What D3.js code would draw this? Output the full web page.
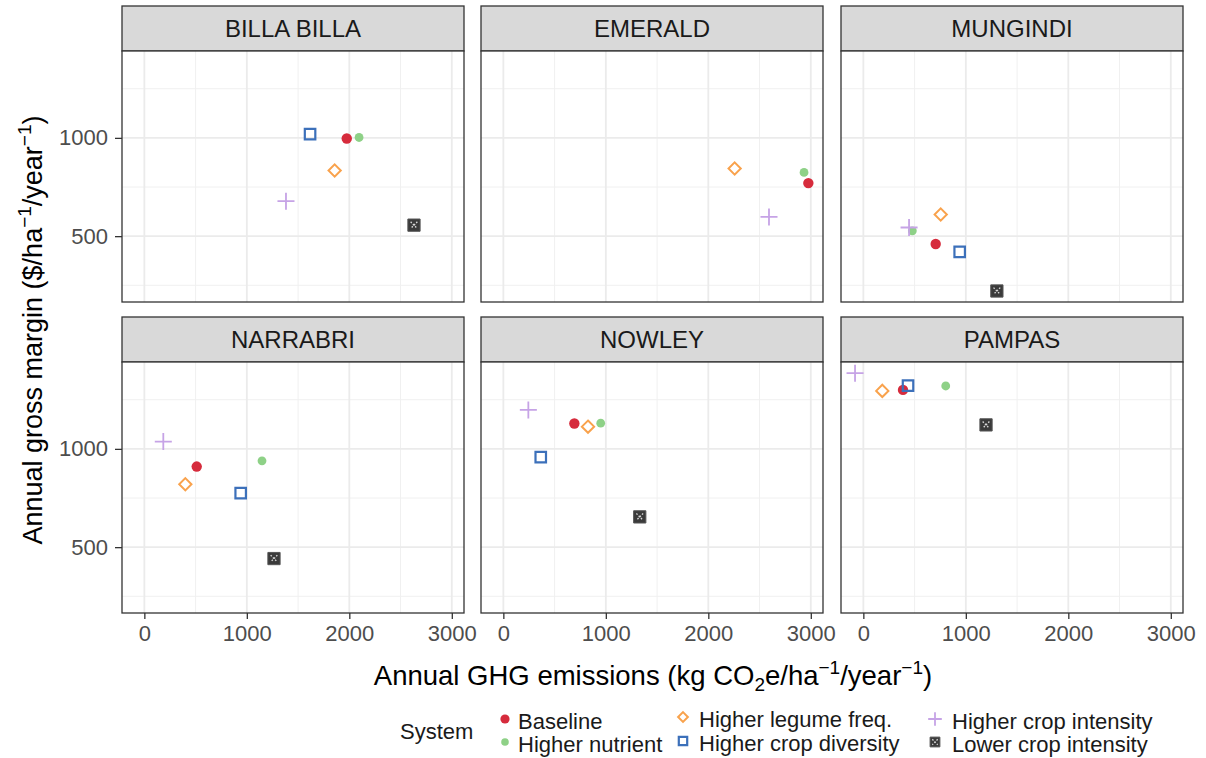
<!DOCTYPE html>
<html>
<head>
<meta charset="utf-8">
<script src="https://cdn.jsdelivr.net/npm/d3@7"></script>
<style>
  body { margin: 0; background: #fff; }
  text { font-family: "Liberation Sans", Arial, sans-serif; }
</style>
</head>
<body>
<svg width="1206" height="758"></svg>
<script>
const svg = d3.select("svg");

// facets and systems
const sites = ["BILLA BILLA", "EMERALD", "MUNGINDI", "NARRABRI", "NOWLEY", "PAMPAS"];
const systems = ["Baseline", "Higher nutrient", "Higher legume freq.", "Higher crop diversity",
  "Higher crop intensity", "Lower crop intensity"];

// GHG emissions (x) and gross margin (y), one value per system, null = missing
const ghgBilla = [1975, 2095, 1857, 1617, 1382, 2631];
const marginBilla = [997, 1002, 834, 1019, 678, 556];
const ghgEmerald = [2976, 2934, 2257, null, 2592, null];
const marginEmerald = [770, 824, 844, null, 598, null];
const ghgMungindi = [706, 478, 755, 940, 446, 1303];
const marginMungindi = [460, 527, 610, 420, 544, 221];
const ghgNarrabri = [511, 1148, 400, 940, 185, 1265];
const marginNarrabri = [910, 939, 820, 775, 1037, 442];
const ghgNowley = [693, 950, 826, 365, 244, 1331];
const marginNowley = [1129, 1131, 1113, 958, 1198, 654];
const ghgPampas = [387, 804, 185, 436, -81, 1197];
const marginPampas = [1300, 1320, 1295, 1322, 1385, 1122];

const xTicks = [0, 1000, 2000, 3000];
const xMinor = [500, 1500, 2500];
const yTicks = [500, 1000];
const yMinor = [250, 750, 1250];

const ghgBySite = [ghgBilla, ghgEmerald, ghgMungindi, ghgNarrabri, ghgNowley, ghgPampas];
const marginBySite = [marginBilla, marginEmerald, marginMungindi, marginNarrabri, marginNowley, marginPampas];

// layout
const colLeft = [122, 481, 841];
const rowTop = [6, 317];
const panelW = 342;
const stripH = 45;
const plotH = 251;

const x = d3.scaleLinear().domain([-218, 3119]).range([0, panelW]);
const y = d3.scaleLinear().domain([165, 1442]).range([plotH, 0]);

const colors = ["#d62b3c", "#8ed187", "#f9a24c", "#3c70ba", "#c6a3e6", "#3a3a3a"];

// symbol shapes
const diamond = { draw(ctx, s) { const r = Math.sqrt(s) / 2; ctx.moveTo(0, -r); ctx.lineTo(r, 0); ctx.lineTo(0, r); ctx.lineTo(-r, 0); ctx.closePath(); } };
const square = { draw(ctx, s) { const r = Math.sqrt(s) / 2; ctx.rect(-r, -r, 2 * r, 2 * r); } };
const plus = { draw(ctx, s) { const r = Math.sqrt(s) / 2; ctx.moveTo(-r, 0); ctx.lineTo(r, 0); ctx.moveTo(0, -r); ctx.lineTo(0, r); } };
const cross = { draw(ctx, s) { const r = Math.sqrt(s) / 2; ctx.moveTo(-r, -r); ctx.lineTo(r, r); ctx.moveTo(r, -r); ctx.lineTo(-r, r); } };

function drawSymbol(g, i, cx, cy, k = 1) {
  if (i === 0) {
    g.append("circle").attr("cx", cx).attr("cy", cy).attr("r", 5.2 * k).attr("fill", colors[0]);
  } else if (i === 1) {
    g.append("circle").attr("cx", cx).attr("cy", cy).attr("r", 4.4 * k).attr("fill", colors[1]);
  } else if (i === 2) {
    g.append("path").attr("transform", `translate(${cx},${cy})`)
      .attr("d", d3.symbol().type(diamond).size(150 * k * k)())
      .attr("fill", "none").attr("stroke", colors[2]).attr("stroke-width", 2);
  } else if (i === 3) {
    g.append("path").attr("transform", `translate(${cx},${cy})`)
      .attr("d", d3.symbol().type(square).size(110 * k * k)())
      .attr("fill", "none").attr("stroke", colors[3]).attr("stroke-width", 2.2);
  } else if (i === 4) {
    g.append("path").attr("transform", `translate(${cx},${cy})`)
      .attr("d", d3.symbol().type(plus).size(290 * k * k)())
      .attr("fill", "none").attr("stroke", colors[4]).attr("stroke-width", 1.8);
  } else {
    g.append("path").attr("transform", `translate(${cx},${cy})`)
      .attr("d", d3.symbol().type(square).size(150 * k * k)())
      .attr("fill", colors[5]).attr("stroke", "#555").attr("stroke-width", 1);
    g.append("path").attr("transform", `translate(${cx},${cy})`)
      .attr("d", d3.symbol().type(cross).size(45 * k * k)())
      .attr("fill", "none").attr("stroke", "#d8d8d8").attr("stroke-width", 1.3)
      .attr("stroke-dasharray", "1.6,1.6");
  }
}

sites.forEach((site, k) => {
  const col = k % 3, row = Math.floor(k / 3);
  const left = colLeft[col], top = rowTop[row];
  const strip = svg.append("g").attr("transform", `translate(${left},${top})`);
  strip.append("rect").attr("width", panelW).attr("height", stripH)
    .attr("fill", "#d9d9d9").attr("stroke", "#333").attr("stroke-width", 1.3);
  strip.append("text").attr("x", panelW / 2).attr("y", stripH / 2).attr("dy", "0.36em")
    .attr("text-anchor", "middle").attr("font-size", 24).attr("fill", "#1a1a1a").text(site);

  const g = svg.append("g").attr("transform", `translate(${left},${top + stripH})`);
  g.append("rect").attr("width", panelW).attr("height", plotH).attr("fill", "#fff");

  g.selectAll("line.ymin").data(yMinor).enter().append("line")
    .attr("x1", 0).attr("x2", panelW).attr("y1", d => y(d)).attr("y2", d => y(d))
    .attr("stroke", "#f0f0f0").attr("stroke-width", 1);
  g.selectAll("line.xmin").data(xMinor).enter().append("line")
    .attr("y1", 0).attr("y2", plotH).attr("x1", d => x(d)).attr("x2", d => x(d))
    .attr("stroke", "#f0f0f0").attr("stroke-width", 1);
  g.selectAll("line.ymaj").data(yTicks).enter().append("line")
    .attr("x1", 0).attr("x2", panelW).attr("y1", d => y(d)).attr("y2", d => y(d))
    .attr("stroke", "#ebebeb").attr("stroke-width", 1.8);
  g.selectAll("line.xmaj").data(xTicks).enter().append("line")
    .attr("y1", 0).attr("y2", plotH).attr("x1", d => x(d)).attr("x2", d => x(d))
    .attr("stroke", "#ebebeb").attr("stroke-width", 1.8);

  const gx = ghgBySite[k], gy = marginBySite[k];
  systems.forEach((s, i) => {
    if (gx[i] == null) return;
    drawSymbol(g, i, x(gx[i]), y(gy[i]));
  });

  g.append("rect").attr("width", panelW).attr("height", plotH)
    .attr("fill", "none").attr("stroke", "#333").attr("stroke-width", 1.3);

  if (col === 0) {
    const ax = g.append("g").call(d3.axisLeft(y).tickValues(yTicks).tickSize(7).tickPadding(7).tickFormat(d3.format("d")));
    ax.select(".domain").remove();
    ax.selectAll("line").attr("stroke", "#333").attr("stroke-width", 1.3);
    ax.selectAll("text").attr("font-size", 22).attr("fill", "#4d4d4d").attr("font-family", "Liberation Sans, Arial, sans-serif");
  }
  if (row === 1) {
    const ax = g.append("g").attr("transform", `translate(0,${plotH})`)
      .call(d3.axisBottom(x).tickValues(xTicks).tickSize(6).tickPadding(6).tickFormat(d3.format("d")));
    ax.select(".domain").remove();
    ax.selectAll("line").attr("stroke", "#333").attr("stroke-width", 1.3);
    ax.selectAll("text").attr("font-size", 22).attr("fill", "#4d4d4d").attr("font-family", "Liberation Sans, Arial, sans-serif");
  }
});

// axis titles
const xt = svg.append("text").attr("x", 653).attr("y", 685).attr("text-anchor", "middle")
  .attr("font-size", 27.5).attr("fill", "#000");
xt.append("tspan").text("Annual GHG emissions (kg CO");
xt.append("tspan").attr("font-size", 19).attr("dy", 6).text("2");
xt.append("tspan").attr("dy", -6).text("e/ha");
xt.append("tspan").attr("font-size", 19).attr("dy", -11).text("\u22121");
xt.append("tspan").attr("dy", 11).text("/year");
xt.append("tspan").attr("font-size", 19).attr("dy", -11).text("\u22121");
xt.append("tspan").attr("dy", 11).text(")");

const yt = svg.append("text").attr("transform", "translate(42,330) rotate(-90)").attr("text-anchor", "middle")
  .attr("font-size", 27).attr("fill", "#000");
yt.append("tspan").text("Annual gross margin ($/ha");
yt.append("tspan").attr("font-size", 19).attr("dy", -11).text("\u22121");
yt.append("tspan").attr("dy", 11).text("/year");
yt.append("tspan").attr("font-size", 19).attr("dy", -11).text("\u22121");
yt.append("tspan").attr("dy", 11).text(")");

// legend
const legend = svg.append("g");
legend.append("text").attr("x", 400).attr("y", 731).attr("dy", "0.35em").attr("font-size", 22).attr("fill", "#1a1a1a").text("System");
const legPos = [[505, 719], [505, 742], [683, 717], [683, 741], [935, 719], [935, 742]];
const legTextX = [518, 518, 699, 699, 952, 952];
systems.forEach((s, i) => {
  const [lx, ly] = legPos[i];
  const sg = legend.append("g");
  if (i === 0 || i === 1) {
    sg.append("circle").attr("cx", lx).attr("cy", ly).attr("r", i === 0 ? 4.6 : 3.8).attr("fill", colors[i]);
  } else {
    drawSymbol(sg, i, lx, ly, 0.8);
  }
  legend.append("text").attr("x", legTextX[i]).attr("y", ly + 2).attr("dy", "0.35em")
    .attr("font-size", 22).attr("fill", "#1a1a1a").text(s);
});
</script>
</body>
</html>
